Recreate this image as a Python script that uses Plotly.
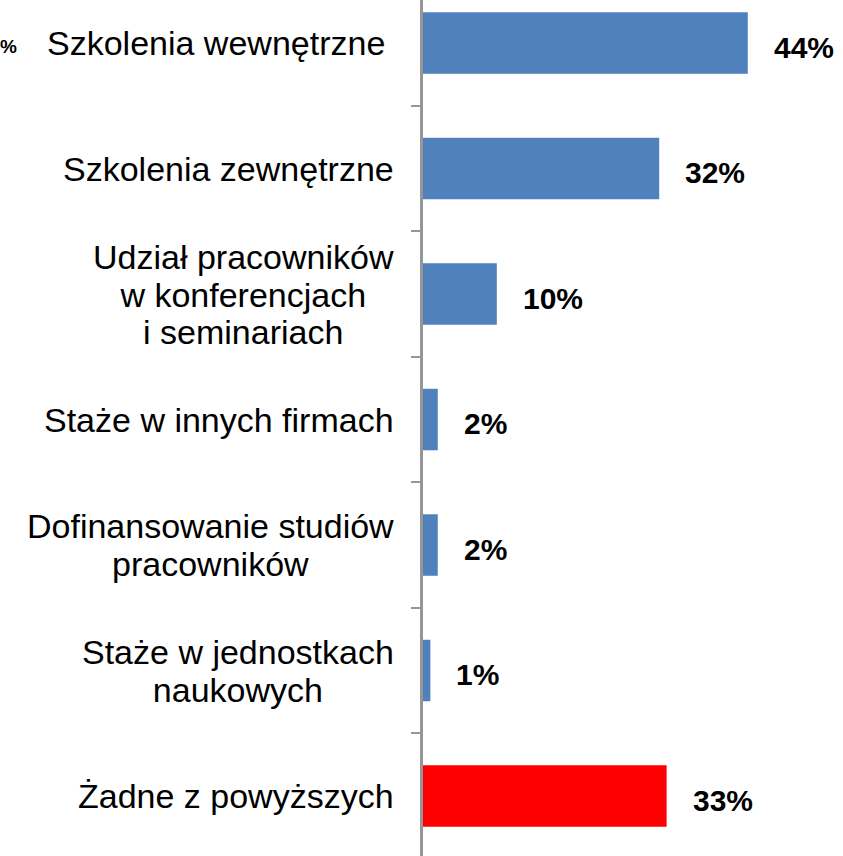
import plotly.graph_objects as go

# Forms of employee training (share of firms, %)
categories = [
    "Szkolenia wewnętrzne",
    "Szkolenia zewnętrzne",
    "Udział pracowników<br>w konferencjach<br>i seminariach",
    "Staże w innych firmach",
    "Dofinansowanie studiów<br>pracowników",
    "Staże w jednostkach<br>naukowych",
    "Żadne z powyższych",
]
values = [44, 32, 10, 2, 2, 1, 33]
bar_colors = ["#4F81BD"] * 6 + ["#FF0000"]

FONT = "Liberation Sans, Arial, sans-serif"
AXIS_GRAY = "#969696"

fig = go.Figure(
    go.Bar(
        x=values,
        y=categories,
        orientation="h",
        width=0.49,
        marker=dict(color=bar_colors, line=dict(width=0)),
        hoverinfo="skip",
    )
)

annotations = []
for i, (cat, val) in enumerate(zip(categories, values)):
    # category label, right-aligned to the left of the axis, lines centred
    lines = cat.split("<br>")
    text = "<br>".join(f"<span style='font-size:34px'>{ln}</span>" for ln in lines)
    annotations.append(dict(
        xref="paper", yref="y", x=0, y=cat,
        xanchor="right", yanchor="middle", align="center",
        xshift=-36 if i == 0 else -27, yshift=0,
        text=text, showarrow=False,
        font=dict(family=FONT, size=29, color="#000000"),
    ))
    # value label just past the bar end
    annotations.append(dict(
        xref="x", yref="y", x=val, y=cat,
        xanchor="left", yanchor="middle",
        xshift=24, yshift=-4,
        text=f"<b>{val}%</b>", showarrow=False,
        font=dict(family=FONT, size=30, color="#000000"),
    ))

# clipped tail of a stray label at the left edge
annotations.append(dict(
    xref="paper", yref="y", x=0, y=categories[0],
    xanchor="left", yanchor="middle", xshift=-425, yshift=-3,
    text="<b>%</b>", showarrow=False,
    font=dict(family=FONT, size=19, color="#000000"),
))

fig.update_layout(
    width=843, height=856,
    margin=dict(l=423, r=0, t=0, b=0),
    paper_bgcolor="#FFFFFF", plot_bgcolor="#FFFFFF",
    showlegend=False,
    annotations=annotations,
    xaxis=dict(range=[0, 56.9], visible=False, fixedrange=True),
    yaxis=dict(
        type="category",
        range=[6.478, -0.343],
        showline=True, linecolor=AXIS_GRAY, linewidth=3,
        ticks="outside", tickson="boundaries", ticklen=9,
        tickwidth=2, tickcolor=AXIS_GRAY,
        showticklabels=False, showgrid=False, zeroline=False,
        fixedrange=True,
    ),
)

fig.write_html("out.html")
